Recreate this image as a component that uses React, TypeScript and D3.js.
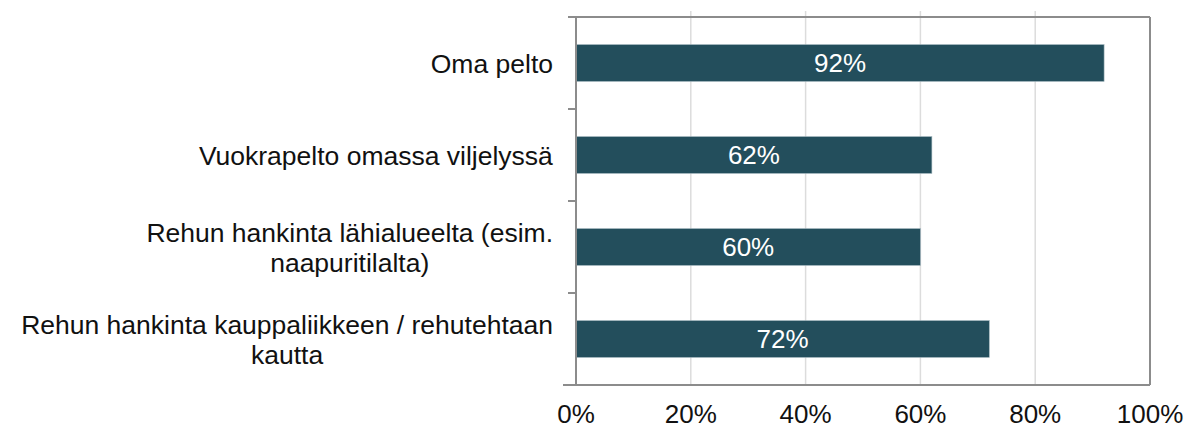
import { useEffect, useRef } from "react";
import * as d3 from "d3";

const categories = [
  "Oma pelto",
  "Vuokrapelto omassa viljelyssä",
  "Rehun hankinta lähialueelta (esim.|naapuritilalta)",
  "Rehun hankinta kauppaliikkeen / rehutehtaan|kautta",
];
const values = [92, 62, 60, 72];
const xTicks = [0, 20, 40, 60, 80, 100];

const W = 1186;
const H = 428;

const App = () => {
  const ref = useRef<SVGSVGElement | null>(null);

  useEffect(() => {
    const margin = { top: 17, right: 36, bottom: 43, left: 576 };
    const svg = d3.select(ref.current);
    svg.selectAll("*").remove();

    const x = d3.scaleLinear().domain([0, 100]).range([margin.left, W - margin.right]);
    const y = d3
      .scaleBand<number>()
      .domain(d3.range(categories.length))
      .range([margin.top, H - margin.bottom])
      .paddingInner(0.6)
      .paddingOuter(0.3);
    const band = d3.scaleBand<number>().domain(d3.range(categories.length)).range([margin.top, H - margin.bottom]);

    const font = "'Liberation Sans', Arial, sans-serif";
    const [y0, y1] = [margin.top, H - margin.bottom];

    // grid
    svg
      .append("g")
      .selectAll("line")
      .data(xTicks.slice(1, -1))
      .join("line")
      .attr("x1", (d) => x(d))
      .attr("x2", (d) => x(d))
      .attr("y1", y0 - 6)
      .attr("y2", y1)
      .attr("stroke", "#dcdcdc")
      .attr("stroke-width", 1.5);

    // bars
    svg
      .append("g")
      .selectAll("rect")
      .data(values)
      .join("rect")
      .attr("x", x(0))
      .attr("y", (_, i) => y(i)!)
      .attr("width", (d) => x(d) - x(0))
      .attr("height", y.bandwidth())
      .attr("fill", "#234e5c")
      .attr("stroke", "#9fb4bb")
      .attr("stroke-width", 0.6);

    // value labels
    svg
      .append("g")
      .selectAll("text")
      .data(values)
      .join("text")
      .attr("x", (d) => (x(0) + x(d)) / 2)
      .attr("y", (_, i) => y(i)! + y.bandwidth() / 2)
      .attr("dy", "0.36em")
      .attr("text-anchor", "middle")
      .attr("fill", "#fff")
      .style("font-family", font)
      .style("font-size", "26px")
      .text((d) => `${d}%`);

    // frame
    const frame = svg.append("g").attr("stroke", "#8c8c8c").attr("stroke-width", 2).attr("fill", "none");
    frame.append("line").attr("x1", x(0)).attr("x2", x(100)).attr("y1", y0).attr("y2", y0);
    frame.append("line").attr("x1", x(100)).attr("x2", x(100)).attr("y1", y0).attr("y2", y1);
    frame.append("line").attr("x1", x(0)).attr("x2", x(0)).attr("y1", y0).attr("y2", y1);
    frame.append("line").attr("x1", x(0) - 13).attr("x2", x(100)).attr("y1", y1).attr("y2", y1);

    // left ticks at category boundaries
    frame
      .selectAll("line.tk")
      .data(d3.range(categories.length))
      .join("line")
      .attr("class", "tk")
      .attr("x1", x(0) - 8)
      .attr("x2", x(0))
      .attr("y1", (i) => band(i)!)
      .attr("y2", (i) => band(i)!);

    // category labels
    const lab = svg
      .append("g")
      .selectAll("text")
      .data(categories)
      .join("text")
      .attr("text-anchor", "middle")
      .attr("fill", "#111")
      .style("font-family", font)
      .style("font-size", "26.5px");
    lab.each(function (d, i) {
      const lines = d.split("|");
      const t = d3.select(this);
      const cy = y(i)! + y.bandwidth() / 2;
      const lh = 30;
      const start = cy - ((lines.length - 1) * lh) / 2;
      lines.forEach((l, k) => {
        t.append("tspan").attr("x", 0).attr("y", start + k * lh).attr("dy", "0.36em").text(l);
      });
      // widest line ends just left of the axis
      const w = (this as SVGTextElement).getBBox().width;
      t.attr("transform", `translate(${x(0) - 23 - w / 2},0)`);
    });

    // x tick labels
    svg
      .append("g")
      .selectAll("text")
      .data(xTicks)
      .join("text")
      .attr("x", (d) => x(d))
      .attr("y", 414)
      .attr("dy", "0.36em")
      .attr("text-anchor", "middle")
      .attr("fill", "#111")
      .style("font-family", font)
      .style("font-size", "26px")
      .text((d) => `${d}%`);
  }, []);

  return <svg ref={ref} width={W} height={H} style={{ position: "absolute", left: 0, top: 0, background: "#fff" }} />;
};

export default App;
